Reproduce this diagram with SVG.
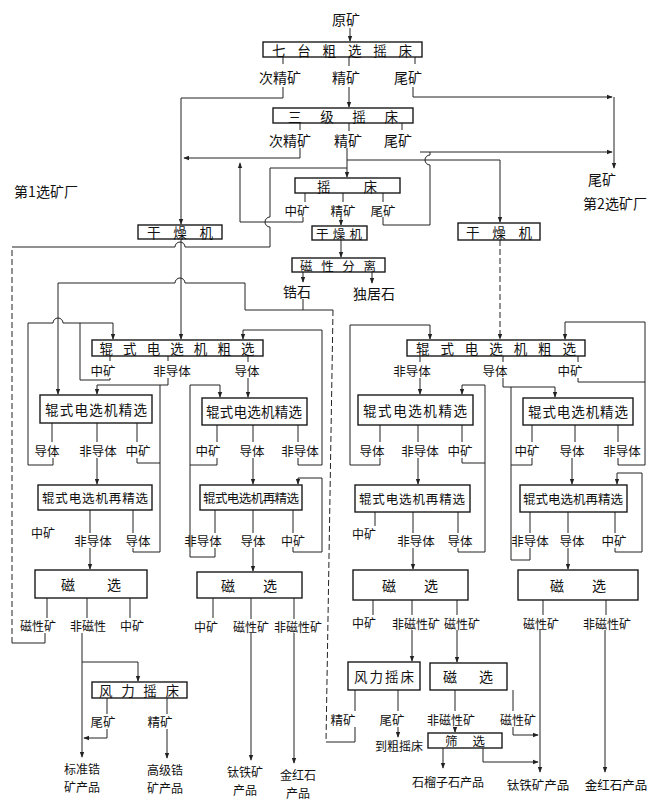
<svg xmlns="http://www.w3.org/2000/svg" width="662" height="802" viewBox="0 0 662 802">
<style>
.b{fill:#fff;stroke:#1a1a1a;stroke-width:1.4}
.l{fill:none;stroke:#222;stroke-width:1}
.a{marker-end:url(#ah)}
.d{stroke-dasharray:6 3}
text{font-family:"Noto Sans CJK SC","Noto Sans CJK JP",sans-serif;fill:#111;text-anchor:middle;dominant-baseline:central}
.t{font-size:14px}
.s{font-size:12.5px}
.x{font-size:12px}
.bt{font-size:13.5px}
</style>
<defs>
<marker id="ah" viewBox="0 0 8 8" refX="7" refY="4" markerWidth="6" markerHeight="6" orient="auto"><path d="M0,1 L8,4 L0,7z" fill="#222"/></marker>
</defs>
<rect width="662" height="802" fill="#fff"/>

<g id="connectors">
<!-- top -->
<path class="l a" d="M350,28 V41"/>
<path class="l" d="M283,57 V64 M349,57 V66 M415,57 V64"/>
<path class="l a" d="M283,87 V98 H181 V224"/>
<path class="l a" d="M349,87 V107"/>
<path class="l a" d="M413,87 V97 H612"/>
<path class="l a" d="M614,97 V168"/>
<path class="l" d="M300,123 V130 M349,123 V131 M402,123 V130"/>
<path class="l a" d="M300,148 V158 H184"/>
<path class="l a" d="M420,152 H612"/>
<path class="l a" d="M347,148 V177"/>
<path class="l a" d="M347,160 H500 V222"/>
<path class="l" d="M305,193 V202 M343,193 V202 M383,193 V202"/>
<path class="l a" d="M303,217 V222 H240 V163"/>
<path class="l a" d="M341,217 V225"/>
<path class="l" d="M383,217 V225 H430 V165 a5,5 0 0 1 0,-10 V152"/>
<path class="l a" d="M341,240 V257"/>
<path class="l a" d="M303,272 V282"/>
<path class="l" d="M303,299 V310"/>
<path class="l a" d="M372,272 V283"/>
<!-- return from left magnetic product -->
<path class="l" d="M45,633 V643 H12"/>
<path class="l d" d="M12,643 V247"/>
<path class="l" d="M12,247 H175 a5,5 0 0 1 10,0 H270 V227 a5,5 0 0 1 0,-10 V168 H347"/>
<!-- zircon / long return line -->
<path class="l a" d="M333,310 H245 V283 H185 a5,5 0 0 0 -10,0 H58 V394"/>
<path class="l d" d="M333,310 L326,742"/>
<path class="l" d="M355,727 V742 H326"/>
<path class="l a" d="M181,239 V339"/>
<path class="l a d" d="M500,240 V339"/>

<!-- left coarse -->
<path class="l a" d="M53,458 V465 H28 V323 H53 a5,5 0 0 1 10,0 H113 V339"/>
<path class="l" d="M110,356 V361 M168,356 V361 M248,356 V362"/>
<path class="l" d="M110,378 V380 H80 V323"/>
<path class="l" d="M168,378 V385 H160"/>
<path class="l a" d="M133,548 V552 H160 V385 H97 V394"/>
<path class="l" d="M137,458 V463 H160"/>
<path class="l a" d="M248,378 V397"/>
<path class="l" d="M52,423 V442 M97,423 V442 M137,423 V442"/>
<path class="l" d="M217,425 V442 M253,425 V442 M298,425 V442"/>
<path class="l a" d="M217,458 V465 H190 V385 H220 V397"/>
<path class="l" d="M215,548 V557 H190 V465"/>
<path class="l a" d="M298,458 V465 H322 V330 H243 V339"/>
<path class="l a" d="M97,458 V484"/>
<path class="l a" d="M253,458 V484"/>
<path class="l a" d="M293,547 V552 H322 V478 H298 V484"/>
<path class="l" d="M90,510 V533 M133,510 V533"/>
<path class="l" d="M215,510 V533 M253,510 V533 M293,510 V533"/>
<path class="l a" d="M90,548 V569"/>
<path class="l a" d="M253,548 V571"/>
<path class="l" d="M47,598 V618 M87,598 V618 M130,598 V618"/>
<path class="l" d="M213,598 V618 M251,598 V619 M294,598 V619"/>
<path class="l a" d="M82,633 V757"/>
<path class="l a" d="M82,662 H138 V681"/>
<path class="l" d="M107,698 V714 M167,698 V714"/>
<path class="l a" d="M107,729 V738 H84"/>
<path class="l a" d="M167,729 V758"/>
<path class="l a" d="M251,633 V760"/>
<path class="l a" d="M294,633 V763"/>

<!-- right coarse -->
<path class="l a" d="M380,458 V465 H350 V325 H430 V339"/>
<path class="l" d="M420,356 V362 M503,356 V362 M578,356 V362"/>
<path class="l" d="M578,378 V382 H645"/>
<path class="l a" d="M618,458 V465 H645 V322 H565 V339"/>
<path class="l a" d="M420,378 V394"/>
<path class="l a" d="M503,378 V387 H555 V397"/>
<path class="l" d="M532,458 V465 H511 V387"/>
<path class="l" d="M530,548 V560 H511 V465"/>
<path class="l" d="M380,425 V442 M418,425 V442 M462,425 V442"/>
<path class="l a" d="M462,458 V463 H485 V385 H462 V394"/>
<path class="l" d="M458,548 V552 H485 V463"/>
<path class="l" d="M532,425 V442 M575,425 V442 M618,425 V442"/>
<path class="l a" d="M418,458 V484"/>
<path class="l a" d="M572,458 V484"/>
<path class="l" d="M375,512 V526 M413,512 V533 M458,512 V533"/>
<path class="l" d="M530,512 V533 M568,512 V533 M615,512 V533"/>
<path class="l a" d="M615,548 V552 H642 V473 H617 V484"/>
<path class="l a" d="M413,548 V569"/>
<path class="l a" d="M568,548 V569"/>
<path class="l" d="M373,600 V615 M412,600 V615 M457,600 V615"/>
<path class="l a" d="M412,630 V661"/>
<path class="l a" d="M457,630 V662"/>
<path class="l" d="M355,690 V711 M398,690 V711 M455,690 V711 M513,690 V711"/>
<path class="l a" d="M398,727 V737"/>
<path class="l a" d="M455,727 V732"/>
<path class="l a" d="M513,727 V735 H538"/>
<path class="l a" d="M443,748 V768"/>
<path class="l a" d="M483,748 V762 H538"/>
<path class="l" d="M543,600 V615 M606,600 V615"/>
<path class="l a" d="M540,630 V772"/>
<path class="l a" d="M605,630 V772"/>
</g>

<g id="n-raw"><text class="t" x="346" y="19">原矿</text></g>
<g id="n-b1"><rect class="b" x="263" y="42" width="159" height="15"/><text class="bt" x="342" y="50" textLength="140" lengthAdjust="spacing">七台粗选摇床</text></g>
<g id="o-b1"><text class="t" x="280" y="77">次精矿</text><text class="t" x="346" y="77">精矿</text><text class="t" x="408" y="77">尾矿</text></g>
<g id="n-b2"><rect class="b" x="273" y="108" width="140" height="15"/><text class="bt" x="343" y="116" textLength="110" lengthAdjust="spacing">三级摇床</text></g>
<g id="o-b2"><text class="t" x="290" y="140">次精矿</text><text class="t" x="348" y="140">精矿</text><text class="t" x="398" y="140">尾矿</text></g>
<g id="n-plant2"><text class="t" x="602" y="179">尾矿</text><text class="t" x="615" y="203">第2选矿厂</text></g>
<g id="n-plant1"><text class="t" x="46" y="191">第1选矿厂</text></g>
<g id="n-b3"><rect class="b" x="295" y="178" width="105" height="15"/><text class="bt" x="347" y="186" textLength="60" lengthAdjust="spacing">摇床</text></g>
<g id="o-b3"><text class="s" x="297" y="210">中矿</text><text class="s" x="343" y="210">精矿</text><text class="s" x="383" y="210">尾矿</text></g>
<g id="n-dry1"><rect class="b" x="138" y="225" width="84" height="14"/><text class="bt" x="180" y="232" textLength="66" lengthAdjust="spacing">干燥机</text></g>
<g id="n-dry2"><rect class="b" x="312" y="226" width="55" height="14"/><text class="s" x="339" y="233" textLength="46" lengthAdjust="spacing">干燥机</text></g>
<g id="n-dry3"><rect class="b" x="458" y="223" width="82" height="17"/><text class="bt" x="499" y="232" textLength="66" lengthAdjust="spacing">干燥机</text></g>
<g id="n-magsep"><rect class="b" x="292" y="258" width="93" height="14"/><text class="s" x="338" y="265" textLength="76" lengthAdjust="spacing">磁性分离</text></g>
<g id="o-magsep"><text class="t" x="297" y="291">锆石</text><text class="t" x="374" y="293">独居石</text></g>

<g id="n-lc"><rect class="b" x="92" y="340" width="171" height="16"/><text class="bt" x="177" y="348" textLength="155" lengthAdjust="spacing">辊式电选机粗选</text></g>
<g id="o-lc"><text class="s" x="103" y="370">中矿</text><text class="s" x="172" y="370">非导体</text><text class="s" x="247" y="370">导体</text></g>
<g id="n-rc"><rect class="b" x="407" y="340" width="178" height="16"/><text class="bt" x="496" y="348" textLength="160" lengthAdjust="spacing">辊式电选机粗选</text></g>
<g id="o-rc"><text class="s" x="412" y="370">非导体</text><text class="s" x="495" y="370">导体</text><text class="s" x="570" y="370">中矿</text></g>

<g id="n-lf1"><rect class="b" x="40" y="395" width="112" height="28"/><text class="bt" x="96" y="409" textLength="102" lengthAdjust="spacing">辊式电选机精选</text></g>
<g id="o-lf1"><text class="s" x="47" y="450">导体</text><text class="s" x="98" y="450">非导体</text><text class="s" x="138" y="450">中矿</text></g>
<g id="n-lf2"><rect class="b" x="202" y="398" width="105" height="27"/><text class="bt" x="254" y="411" textLength="96" lengthAdjust="spacing">辊式电选机精选</text></g>
<g id="o-lf2"><text class="s" x="208" y="450">中矿</text><text class="s" x="252" y="450">导体</text><text class="s" x="300" y="450">非导体</text></g>
<g id="n-rf1"><rect class="b" x="358" y="395" width="115" height="30"/><text class="bt" x="415" y="410" textLength="104" lengthAdjust="spacing">辊式电选机精选</text></g>
<g id="o-rf1"><text class="s" x="372" y="450">导体</text><text class="s" x="420" y="450">非导体</text><text class="s" x="460" y="450">中矿</text></g>
<g id="n-rf2"><rect class="b" x="523" y="398" width="110" height="27"/><text class="bt" x="578" y="411" textLength="100" lengthAdjust="spacing">辊式电选机精选</text></g>
<g id="o-rf2"><text class="s" x="527" y="450">中矿</text><text class="s" x="572" y="450">导体</text><text class="s" x="622" y="450">非导体</text></g>

<g id="n-lr1"><rect class="b" x="38" y="485" width="114" height="25"/><text class="s" x="95" y="497" textLength="106" lengthAdjust="spacing">辊式电选机再精选</text></g>
<g id="o-lr1"><text class="x" x="43" y="532">中矿</text><text class="s" x="93" y="540">非导体</text><text class="s" x="138" y="540">导体</text></g>
<g id="n-lr2"><rect class="b" x="200" y="485" width="102" height="25"/><text class="s" x="251" y="497" textLength="96" lengthAdjust="spacing">辊式电选机再精选</text></g>
<g id="o-lr2"><text class="s" x="203" y="540">非导体</text><text class="s" x="253" y="540">导体</text><text class="x" x="293" y="540">中矿</text></g>
<g id="n-rr1"><rect class="b" x="355" y="485" width="115" height="27"/><text class="s" x="412" y="498" textLength="106" lengthAdjust="spacing">辊式电选机再精选</text></g>
<g id="o-rr1"><text class="x" x="364" y="533">中矿</text><text class="s" x="416" y="540">非导体</text><text class="s" x="460" y="540">导体</text></g>
<g id="n-rr2"><rect class="b" x="520" y="485" width="107" height="27"/><text class="s" x="573" y="498" textLength="100" lengthAdjust="spacing">辊式电选机再精选</text></g>
<g id="o-rr2"><text class="s" x="530" y="540">非导体</text><text class="s" x="572" y="540">导体</text><text class="s" x="614" y="540">中矿</text></g>

<g id="n-lm1"><rect class="b" x="35" y="570" width="112" height="28"/><text class="t" x="91" y="584" textLength="60" lengthAdjust="spacing">磁选</text></g>
<g id="o-lm1"><text class="x" x="38" y="625">磁性矿</text><text class="x" x="88" y="625">非磁性</text><text class="x" x="132" y="625">中矿</text></g>
<g id="n-lm2"><rect class="b" x="197" y="572" width="105" height="26"/><text class="t" x="249" y="585" textLength="56" lengthAdjust="spacing">磁选</text></g>
<g id="o-lm2"><text class="x" x="206" y="626">中矿</text><text class="x" x="251" y="626">磁性矿</text><text class="x" x="298" y="626">非磁性矿</text></g>
<g id="n-rm1"><rect class="b" x="353" y="570" width="115" height="30"/><text class="t" x="410" y="585" textLength="56" lengthAdjust="spacing">磁选</text></g>
<g id="o-rm1"><text class="x" x="364" y="622">中矿</text><text class="x" x="416" y="623">非磁性矿</text><text class="x" x="462" y="623">磁性矿</text></g>
<g id="n-rm2"><rect class="b" x="518" y="570" width="120" height="30"/><text class="t" x="578" y="585" textLength="56" lengthAdjust="spacing">磁选</text></g>
<g id="o-rm2"><text class="x" x="541" y="623">磁性矿</text><text class="x" x="607" y="623">非磁性矿</text></g>

<g id="n-lw"><rect class="b" x="92" y="682" width="95" height="16"/><text class="bt" x="139" y="690" textLength="80" lengthAdjust="spacing">风力摇床</text></g>
<g id="o-lw"><text class="s" x="103" y="721">尾矿</text><text class="s" x="160" y="721">精矿</text></g>
<g id="n-rw"><rect class="b" x="348" y="662" width="72" height="28"/><text class="bt" x="384" y="676" textLength="60" lengthAdjust="spacing">风力摇床</text></g>
<g id="o-rw"><text class="s" x="343" y="719">精矿</text><text class="s" x="392" y="719">尾矿</text></g>
<g id="n-rm3"><rect class="b" x="430" y="663" width="77" height="27"/><text class="t" x="468" y="676" textLength="50" lengthAdjust="spacing">磁选</text></g>
<g id="o-rm3"><text class="x" x="451" y="719">非磁性矿</text><text class="x" x="518" y="719">磁性矿</text></g>
<g id="n-back"><text class="x" x="399" y="745">到粗摇床</text></g>
<g id="n-screen"><rect class="b" x="428" y="733" width="74" height="15"/><text class="s" x="465" y="740" textLength="40" lengthAdjust="spacing">筛选</text></g>

<g id="p-std"><text class="x" x="82" y="768">标准锆</text><text class="x" x="82" y="786">矿产品</text></g>
<g id="p-high"><text class="x" x="165" y="769">高级锆</text><text class="x" x="165" y="787">矿产品</text></g>
<g id="p-ilm1"><text class="x" x="245" y="771">钛铁矿</text><text class="x" x="245" y="789">产品</text></g>
<g id="p-rut1"><text class="x" x="298" y="774">金红石</text><text class="x" x="298" y="792">产品</text></g>
<g id="p-garnet"><text class="x" x="448" y="781">石榴子石产品</text></g>
<g id="p-ilm2"><text class="s" x="538" y="784">钛铁矿产品</text></g>
<g id="p-rut2"><text class="s" x="616" y="784">金红石产品</text></g>
</svg>
